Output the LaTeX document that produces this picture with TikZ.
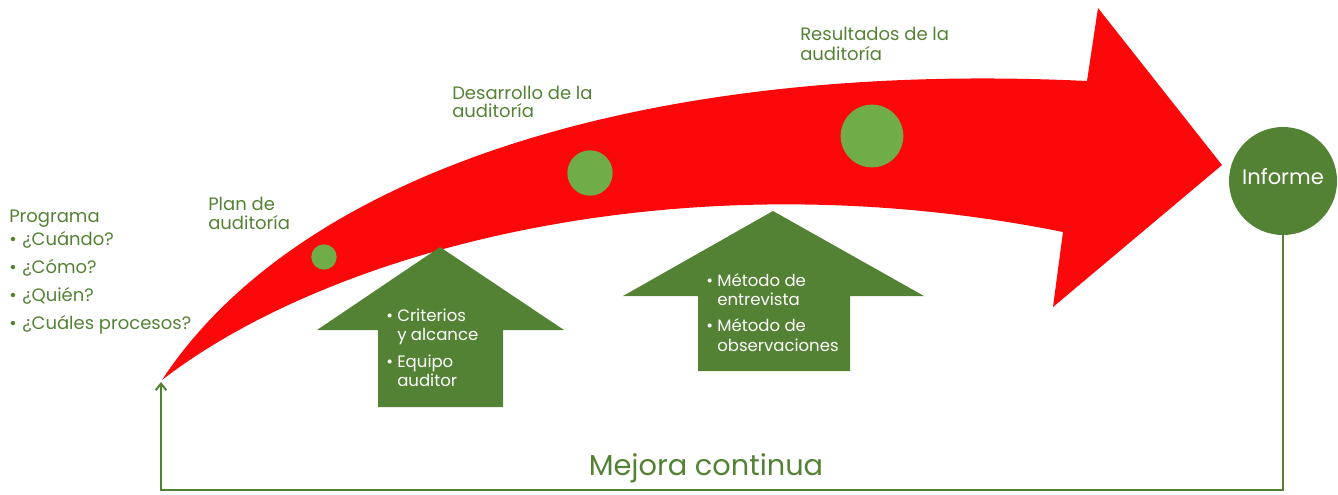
\documentclass[tikz,border=0pt]{standalone}
\usepackage{fontspec}
\setmainfont{Poppins}
\usetikzlibrary{arrows.meta}
\definecolor{arrowred}{RGB}{250,8,10}
\definecolor{lgreen}{RGB}{112,173,71}
\definecolor{dgreen}{RGB}{84,130,53}
\definecolor{tgreen}{RGB}{84,130,53}
\begin{document}
\begin{tikzpicture}[x=0.75pt,y=-0.75pt,
  lbl/.style={anchor=base west, inner sep=0, text=tgreen, font=\fontsize{13.5pt}{15pt}\selectfont},
  wlbl/.style={anchor=base west, inner sep=0, text=white, font=\fontsize{12.4pt}{14pt}\selectfont},
  dot/.style={circle, fill=lgreen, inner sep=0},
  uparrow/.style={fill=dgreen},
  loopline/.style={draw=dgreen, line width=1.5pt}]
\useasboundingbox (0,0) rectangle (1338,494);
% red curved arrow
\fill[arrowred] (162,380) .. controls (300,170) and (650,60) .. (1087,81)
  -- (1098,8) -- (1222,165) -- (1053,307) -- (1063,232)
  .. controls (680,155) and (330,250) .. (162,380) -- cycle;
% dots
\node[dot, minimum size=19pt] (d1) at (324,257) {};
\node[dot, minimum size=34pt] (d2) at (590,173) {};
\node[dot, minimum size=47pt] (d3) at (872,136) {};
% up arrows
\fill[uparrow] (440,247) -- (564,330) -- (503,330) -- (503,407) -- (378,407) -- (378,330) -- (317,330) -- cycle;
\fill[uparrow] (773,211) -- (924,296) -- (850,296) -- (850,371) -- (698,371) -- (698,296) -- (623,296) -- cycle;
% labels
\node[lbl] (prog) at (9,222) {Programa};
\node[lbl] (p1) at (9,245.7) {\makebox[9.75pt][l]{•}¿Cuándo?};
\node[lbl] (p2) at (9,273) {\makebox[9.75pt][l]{•}¿Cómo?};
\node[lbl] (p3) at (9,301.5) {\makebox[9.75pt][l]{•}¿Quién?};
\node[lbl] (p4) at (9,329) {\makebox[9.75pt][l]{•}¿Cuáles procesos?};
\node[lbl] (plan1) at (208,210.5) {Plan de};
\node[lbl] (plan2) at (208,229) {auditoría};
\node[lbl] (des1) at (452,99) {Desarrollo de la};
\node[lbl] (des2) at (452,117.7) {auditoría};
\node[lbl] (res1) at (800,40.5) {Resultados de la};
\node[lbl] (res2) at (800,60) {auditoría};
% arrow 1 text
\node[wlbl] (a1) at (386,321) {\makebox[8.25pt][l]{•}Criterios};
\node[wlbl] (a2) at (397,340) {y alcance};
\node[wlbl] (a3) at (386,367) {\makebox[8.25pt][l]{•}Equipo};
\node[wlbl] (a4) at (397,386.5) {auditor};
% arrow 2 text
\node[wlbl] (b1) at (706,286.7) {\makebox[8.25pt][l]{•}Método de};
\node[wlbl] (b2) at (717,305) {entrevista};
\node[wlbl] (b3) at (706,331) {\makebox[8.25pt][l]{•}Método de};
\node[wlbl] (b4) at (717,351) {observaciones};
% informe
\node[circle, fill=dgreen, minimum size=81pt, inner sep=0] (inf) at (1283,181) {};
\node[anchor=base, inner sep=0, text=white, font=\fontsize{15.8pt}{18pt}\selectfont] (inft) at (1283,184.5) {Informe};
% loop
\coordinate (tail) at (161,382);
\coordinate (bl) at (161,490);
\draw[loopline, -{Straight Barb[length=5pt,width=8pt]}] (inf.south) |- (bl) -- (tail);
\node[anchor=base, inner sep=0, text=tgreen, font=\fontsize{21.6pt}{25pt}\selectfont] (mej) at (706,475) {Mejora continua};
\end{tikzpicture}
\end{document}
